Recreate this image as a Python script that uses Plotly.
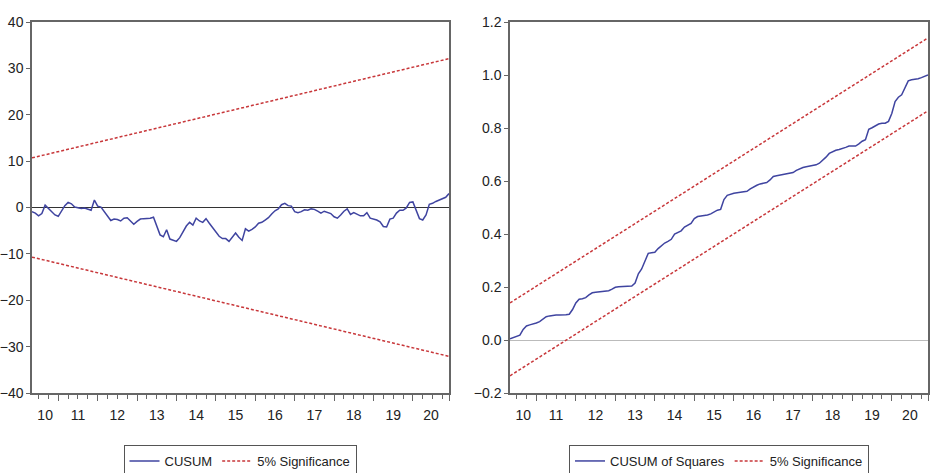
import plotly.graph_objects as go

# ---------------- data ----------------
start_year = 2010
start_month = 5          # first observation: May 2010 (monthly data)
n_obs = 128              # through Dec 2020

year_labels = ["10", "11", "12", "13", "14", "15", "16", "17", "18", "19", "20"]

cusum = [
    -0.9, -1.2, -1.8, -1.3, 0.5, -0.2, -1.0, -1.6, -1.9, -0.6,
    0.4, 1.1, 0.8, 0.1, 0.0, -0.2, -0.1, -0.3, -0.6, 1.6,
    0.3, 0.1, -0.8, -1.8, -2.8, -2.5, -2.6, -2.9, -2.3, -2.2,
    -2.8, -3.6, -3.0, -2.5, -2.4, -2.4, -2.3, -2.1, -4.0, -5.9,
    -6.3, -4.8, -6.8, -7.1, -7.3, -6.5, -5.2, -4.0, -3.2, -3.8,
    -2.3, -2.9, -3.2, -2.4, -3.4, -4.3, -5.2, -6.2, -6.7, -6.7,
    -7.3, -6.3, -5.5, -6.4, -7.1, -4.6, -5.1, -4.7, -4.2, -3.4,
    -3.2, -2.7, -2.2, -1.4, -0.7, -0.3, 0.6, 0.9, 0.4, 0.3,
    -0.9, -1.1, -0.9, -0.5, -0.6, -0.3, -0.4, -0.8, -1.2, -0.8,
    -1.0, -1.3, -2.0, -2.3, -1.6, -0.8, -0.3, -1.5, -1.1, -1.5,
    -1.8, -1.8, -1.1, -2.3, -2.5, -2.7, -3.1, -4.1, -4.2, -2.5,
    -2.3, -1.2, -0.6, -0.6, -0.1, 1.1, 1.2, -0.6, -2.4, -2.7,
    -1.6, 0.7, 0.9, 1.3, 1.6, 2.0, 2.2, 3.0,
]

cusum_upper = [10.7, 32.1]     # 5% bounds at first and last observation
cusum_lower = [-10.7, -32.1]

cusumsq = [
    0.005, 0.010, 0.015, 0.018, 0.040, 0.053, 0.057, 0.060, 0.064, 0.069,
    0.080, 0.088, 0.091, 0.093, 0.094, 0.094, 0.094, 0.095, 0.097, 0.115,
    0.140, 0.154, 0.156, 0.160, 0.170, 0.178, 0.180, 0.182, 0.183, 0.184,
    0.186, 0.192, 0.199, 0.201, 0.202, 0.203, 0.203, 0.204, 0.215, 0.250,
    0.268, 0.300, 0.327, 0.329, 0.331, 0.345, 0.355, 0.366, 0.372, 0.380,
    0.400, 0.406, 0.412, 0.426, 0.433, 0.440, 0.458, 0.466, 0.468, 0.469,
    0.472, 0.476, 0.483, 0.490, 0.493, 0.530, 0.546, 0.551, 0.554, 0.556,
    0.558, 0.559, 0.561, 0.570, 0.578, 0.584, 0.589, 0.592, 0.594, 0.604,
    0.617, 0.620, 0.622, 0.624, 0.626, 0.628, 0.632, 0.640, 0.647, 0.651,
    0.654, 0.656, 0.658, 0.661, 0.667, 0.677, 0.690, 0.704, 0.711, 0.716,
    0.719, 0.722, 0.727, 0.732, 0.732, 0.732, 0.740, 0.750, 0.756, 0.795,
    0.801, 0.808, 0.815, 0.818, 0.818, 0.825, 0.855, 0.900, 0.916, 0.925,
    0.950, 0.978, 0.982, 0.983, 0.986, 0.990, 0.995, 1.000,
]

sq_upper = [0.14, 1.14]
sq_lower = [-0.135, 0.865]

# ---------------- derived positions ----------------
t = [start_year + (start_month - 1 + i) / 12 for i in range(n_obs)]
t_ends = [t[0], t[-1]]
xr = [t[0], t[-1]]
years = list(range(2010, 2021))
year_mid = [max(y, t[0]) / 2 + min(y + 1, t[-1]) / 2 for y in years]
year_bounds = [y for y in range(2011, 2021)] + [t[-1]]
quarters = [q / 4 for q in range(int(t[0] * 4) + 1, int(t[-1] * 4) + 1) if (q % 4) != 0]

BLUE = "#3f44a0"
RED = "#c8373a"
FRAME = "#666666"
FONT = "Liberation Sans, Arial, sans-serif"

W, H = 931, 473
ML, MR, MT, MB = 32, 3, 22, 80
PW, PH = W - ML - MR, H - MT - MB

def fx(px):
    return (px - ML) / PW

def fy(py):
    return (H - MB - py) / PH

fig = go.Figure()

dash = "3px,2px"
# left panel
fig.add_trace(go.Scatter(x=t, y=cusum, mode="lines", name="CUSUM",
                         line=dict(color=BLUE, width=1.5), xaxis="x", yaxis="y",
                         legend="legend"))
fig.add_trace(go.Scatter(x=t_ends, y=cusum_upper, mode="lines", name="5% Significance",
                         line=dict(color=RED, width=1.5, dash=dash),
                         xaxis="x", yaxis="y", legend="legend"))
fig.add_trace(go.Scatter(x=t_ends, y=cusum_lower, mode="lines", showlegend=False,
                         line=dict(color=RED, width=1.5, dash=dash),
                         xaxis="x", yaxis="y"))
# right panel
fig.add_trace(go.Scatter(x=t, y=cusumsq, mode="lines", name="CUSUM of Squares",
                         line=dict(color=BLUE, width=1.5), xaxis="x2", yaxis="y2",
                         legend="legend2"))
fig.add_trace(go.Scatter(x=t_ends, y=sq_upper, mode="lines", name="5% Significance",
                         line=dict(color=RED, width=1.5, dash=dash),
                         xaxis="x2", yaxis="y2", legend="legend2"))
fig.add_trace(go.Scatter(x=t_ends, y=sq_lower, mode="lines", showlegend=False,
                         line=dict(color=RED, width=1.5, dash=dash),
                         xaxis="x2", yaxis="y2"))
# invisible traces to activate the year-tick overlay axes
fig.add_trace(go.Scatter(x=t_ends, y=cusum_upper, mode="lines", line=dict(width=0),
                         opacity=0, showlegend=False, hoverinfo="skip",
                         xaxis="x3", yaxis="y"))
fig.add_trace(go.Scatter(x=t_ends, y=sq_upper, mode="lines", line=dict(width=0),
                         opacity=0, showlegend=False, hoverinfo="skip",
                         xaxis="x4", yaxis="y2"))

ydom = [0, 1]
xdom1 = [0, fx(449)]
xdom2 = [fx(510), fx(928)]

tickfont = dict(family=FONT, size=14, color="#222")

def label_axis(dom, anchor):
    return dict(domain=dom, anchor=anchor, range=xr, showgrid=False, zeroline=False,
                automargin=False,
                showline=True, linecolor=FRAME, linewidth=1.5, mirror=True,
                tickmode="array", tickvals=year_mid, ticktext=year_labels,
                ticks="outside", ticklen=8, tickcolor="rgba(0,0,0,0)",
                tickfont=tickfont,
                minor=dict(tickmode="array", tickvals=quarters, ticks="outside",
                           ticklen=4, tickcolor=FRAME, tickwidth=1))

def year_axis(over, anchor):
    return dict(overlaying=over, anchor=anchor, side="bottom", range=xr,
                automargin=False,
                showgrid=False, zeroline=False, showline=False,
                tickmode="array", tickvals=year_bounds, ticks="outside",
                ticklen=7, tickcolor=FRAME, tickwidth=1, showticklabels=False)

def legend_box(xc):
    return dict(orientation="h", x=fx(xc), xanchor="center", y=fy(445),
                yanchor="top", bordercolor="#555555", borderwidth=1, bgcolor="white",
                font=dict(family=FONT, size=13, color="#222"), itemwidth=30,
                tracegroupgap=0)

fig.update_layout(
    width=W, height=H,
    margin=dict(l=ML, r=MR, t=MT, b=MB, autoexpand=False),
    paper_bgcolor="white", plot_bgcolor="white",
    font=dict(family=FONT, size=14, color="#222"),
    xaxis=label_axis(xdom1, "y"),
    xaxis2=label_axis(xdom2, "y2"),
    xaxis3=year_axis("x", "y"),
    xaxis4=year_axis("x2", "y2"),
    yaxis=dict(domain=ydom, anchor="x", range=[-40, 40], tickmode="array",
               tickvals=[-40, -30, -20, -10, 0, 10, 20, 30, 40], automargin=False,
               showgrid=False, zeroline=True, zerolinecolor="#333333", zerolinewidth=1.2,
               showline=True, linecolor=FRAME, linewidth=1.5, mirror=True,
               ticks="outside", ticklen=4, tickcolor=FRAME, tickfont=tickfont),
    yaxis2=dict(domain=ydom, anchor="x2", range=[-0.2, 1.2], tickmode="array",
                tickvals=[-0.2, 0.0, 0.2, 0.4, 0.6, 0.8, 1.0, 1.2], tickformat=".1f",
                automargin=False,
                showgrid=False, zeroline=True, zerolinecolor="#bbbbbb", zerolinewidth=1.2,
                showline=True, linecolor=FRAME, linewidth=1.5, mirror=True,
                ticks="outside", ticklen=4, tickcolor=FRAME, tickfont=tickfont),
    legend=legend_box(240),
    legend2=legend_box(719),
    showlegend=True,
)

fig.write_html("out.html", config={"displayModeBar": False},
               post_script="document.body.style.margin='0';document.body.style.overflow='hidden';")
